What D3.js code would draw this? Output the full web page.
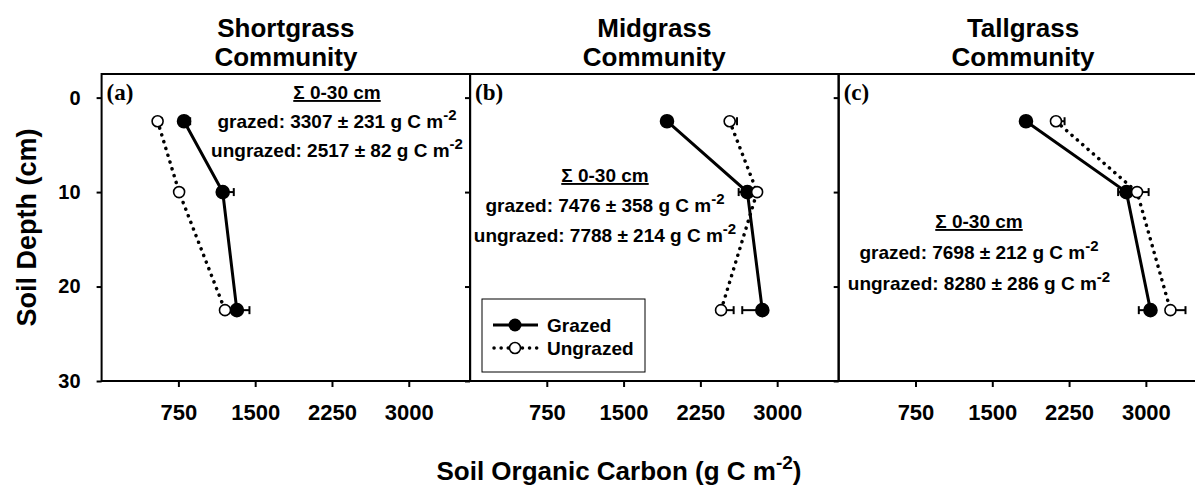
<!DOCTYPE html>
<meta charset="utf-8">
<script src="https://cdn.jsdelivr.net/npm/d3@7"></script>
<head>
	<title>Soil organic carbon by depth - grazed vs ungrazed</title>
	<style>
		body { margin: 0; background: #fff; }
		text { font-family: "Liberation Sans", Arial, sans-serif; font-weight: bold; fill: #000; }
		.letter { font-family: "Liberation Serif", "Times New Roman", serif; font-size: 23px; }
	</style>
</head>
<body>
<div id="chart"></div>
<script>
	// data (g C m-2 per layer)
	var depths = [2.5, 10, 22.5];
	var communities = ["Shortgrass", "Midgrass", "Tallgrass"];
	var letters = ["(a)", "(b)", "(c)"];
	var grazedSOC   = [[805, 1183, 1321], [1924, 2709, 2855], [1829, 2810, 3045]];
	var grazedErr   = [[60, 108, 123], [40, 85, 196], [40, 81, 114]];
	var ungrazedSOC = [[547, 757, 1205], [2536, 2804, 2452], [2122, 2914, 3240]];
	var ungrazedErr = [[40, 40, 40], [72, 40, 123], [84, 113, 147]];
	var totalGrazed   = ["3307 ± 231", "7476 ± 358", "7698 ± 212"];
	var totalUngrazed = ["2517 ± 82", "7788 ± 214", "8280 ± 286"];
	var xTicks = [750, 1500, 2250, 3000];
	var yTicks = [0, 10, 20, 30];

	// layout
	var W = 1195, H = 486;
	var panelLeft = [101.6, 470, 838.7],
		panelW = 368.6,
		plotTop = 74, plotBottom = 381;
	// which side the error bar is drawn on
	var grazedSide = [1, -1, -1], ungrazedSide = [1, 1, 1];
	// where the sum annotation sits in each panel
	var noteX = [337, 605, 979],
		noteY = [[99, 128, 157], [182, 212, 242], [228, 259, 290]];

	var svg = d3.select("#chart").append("svg")
		.attr("width", W).attr("height", H);

	var y = d3.scaleLinear().domain([-2.5, 30]).range([plotTop, plotBottom]);

	var line = function(x) {
		return d3.line().x(function(d) { return x(d.v); }).y(function(d) { return y(d.d); });
	};

	communities.forEach(function(name, i) {
		var x = d3.scaleLinear().domain([0, 3600]).range([panelLeft[i], panelLeft[i] + panelW]);
		var g = svg.append("g");

		// frame
		g.append("rect")
			.attr("x", panelLeft[i]).attr("y", plotTop)
			.attr("width", panelW).attr("height", plotBottom - plotTop)
			.attr("fill", "none").attr("stroke", "#000").attr("stroke-width", 2);

		// x axis
		var xa = g.append("g").attr("transform", "translate(0," + plotBottom + ")")
			.call(d3.axisBottom(x).tickValues(xTicks).tickSize(6).tickPadding(17).tickFormat(d3.format("d")));
		xa.select(".domain").remove();
		xa.selectAll("line").attr("stroke-width", 2);
		xa.selectAll("text").style("font-size", "22px").attr("font-family", null);

		// y axis (labels only on first panel)
		var ya = g.append("g").attr("transform", "translate(" + panelLeft[i] + ",0)")
			.call(d3.axisLeft(y).tickValues(yTicks).tickSize(5).tickPadding(16));
		ya.select(".domain").remove();
		ya.selectAll("line").attr("stroke-width", 2);
		ya.selectAll("text").style("font-size", "20px");
		if (i > 0) ya.selectAll("text").remove();

		// titles
		var cx = panelLeft[i] + panelW / 2;
		g.append("text").attr("x", cx).attr("y", 37).attr("text-anchor", "middle")
			.style("font-size", "26px").text(name);
		g.append("text").attr("x", cx).attr("y", 66).attr("text-anchor", "middle")
			.style("font-size", "26px").text("Community");

		g.append("text").attr("class", "letter")
			.attr("x", panelLeft[i] + 5).attr("y", 100).text(letters[i]);

		// sums
		g.append("text").attr("x", noteX[i]).attr("y", noteY[i][0]).attr("text-anchor", "middle")
			.style("font-size", "19px").style("text-decoration", "underline")
			.text("Σ 0-30 cm");
		["grazed: " + totalGrazed[i], "ungrazed: " + totalUngrazed[i]].forEach(function(s, k) {
			var t = g.append("text").attr("x", noteX[i]).attr("y", noteY[i][k + 1])
				.attr("text-anchor", "middle").style("font-size", "19px");
			t.append("tspan").text(s + " g C m");
			t.append("tspan").attr("dy", -8).style("font-size", "15px").text("-2");
		});

		// series
		var series = [
			{ v: grazedSOC[i], e: grazedErr[i], side: grazedSide[i], filled: true },
			{ v: ungrazedSOC[i], e: ungrazedErr[i], side: ungrazedSide[i], filled: false }
		];
		series.forEach(function(s) {
			var pts = depths.map(function(d, j) { return { d: d, v: s.v[j], e: s.e[j] }; });

			// error bars first so markers sit on top
			pts.forEach(function(p) {
				var xe = x(p.v + s.side * p.e);
				g.append("line").attr("x1", x(p.v)).attr("x2", xe)
					.attr("y1", y(p.d)).attr("y2", y(p.d))
					.attr("stroke", "#000").attr("stroke-width", 2);
				g.append("line").attr("x1", xe).attr("x2", xe)
					.attr("y1", y(p.d) - 4).attr("y2", y(p.d) + 4)
					.attr("stroke", "#000").attr("stroke-width", 2);
			});

			g.append("path").datum(pts).attr("d", line(x))
				.attr("fill", "none").attr("stroke", "#000")
				.attr("stroke-width", s.filled ? 3 : 3.5)
				.attr("stroke-linecap", "round")
				.attr("stroke-dasharray", s.filled ? null : "0.1,7");

			g.selectAll(null).data(pts).enter().append("circle")
				.attr("cx", function(d) { return x(d.v); })
				.attr("cy", function(d) { return y(d.d); })
				.attr("r", s.filled ? 6.5 : 5.5)
				.attr("fill", s.filled ? "#000" : "#fff")
				.attr("stroke", "#000").attr("stroke-width", 1.6);
		});
	});

	// legend in panel (b)
	var lg = svg.append("g");
	lg.append("rect").attr("x", 482).attr("y", 299).attr("width", 163).attr("height", 73)
		.attr("fill", "#fff").attr("stroke", "#000").attr("stroke-width", 1);
	lg.append("line").attr("x1", 493).attr("x2", 538).attr("y1", 325).attr("y2", 325)
		.attr("stroke", "#000").attr("stroke-width", 3);
	lg.append("circle").attr("cx", 515).attr("cy", 325).attr("r", 6.5).attr("fill", "#000");
	lg.append("line").attr("x1", 494).attr("x2", 538).attr("y1", 348).attr("y2", 348)
		.attr("stroke", "#000").attr("stroke-width", 3.5)
		.attr("stroke-linecap", "round").attr("stroke-dasharray", "0.1,7");
	lg.append("circle").attr("cx", 515).attr("cy", 348).attr("r", 5.5)
		.attr("fill", "#fff").attr("stroke", "#000").attr("stroke-width", 1.6);
	lg.append("text").attr("x", 547).attr("y", 332).style("font-size", "19px").text("Grazed");
	lg.append("text").attr("x", 547).attr("y", 355).style("font-size", "19px").text("Ungrazed");

	// axis titles
	svg.append("text")
		.attr("transform", "translate(36," + ((plotTop + plotBottom) / 2) + ") rotate(-90)")
		.attr("text-anchor", "middle").style("font-size", "27px")
		.text("Soil Depth (cm)");

	var xt = svg.append("text").attr("x", 619).attr("y", 480).attr("text-anchor", "middle")
		.style("font-size", "26px");
	xt.append("tspan").text("Soil Organic Carbon (g C m");
	xt.append("tspan").attr("dy", -11).style("font-size", "19px").text("-2");
	xt.append("tspan").attr("dy", 11).text(")");
</script>
</body>
